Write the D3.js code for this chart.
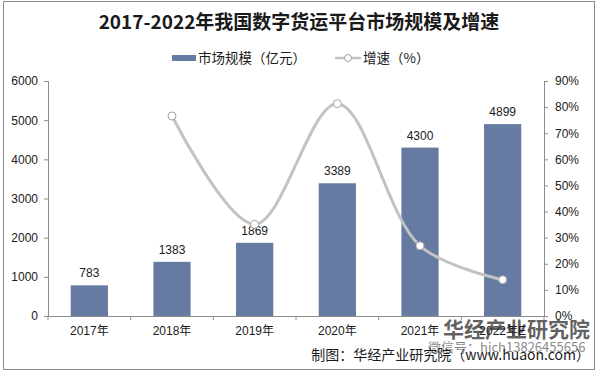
<!DOCTYPE html>
<html lang="zh">
<head>
<meta charset="UTF-8">
<title>2017-2022年我国数字货运平台市场规模及增速</title>
<style>
    body { margin: 0; background: #fff; overflow: hidden; }
    svg { display: block; }
    text { font-family: "Liberation Sans", Arial, "Noto Sans CJK SC", sans-serif; fill: #1a1a1a; }
    .cjk { font-family: "Noto Sans CJK SC", sans-serif; }
</style>
</head>
<body>
<svg id="chart" width="598" height="374"></svg>
<script src="https://cdn.jsdelivr.net/npm/d3@7"></script>
<script>
    const years = ["2017年", "2018年", "2019年", "2020年", "2021年", "2022年E"];
    const marketSize = [783, 1383, 1869, 3389, 4300, 4899];      // 亿元
    const growth = [null, 76.6, 35.1, 81.3, 26.9, 13.9];          // %
    const leftTicks = [0, 1000, 2000, 3000, 4000, 5000, 6000];
    const rightTicks = [0, 10, 20, 30, 40, 50, 60, 70, 80, 90];

    const svg = d3.select("#chart");
    const barColor = "#667ba2";
    const lineColor = "#c3c3c3";

    // outer frame
    svg.append("rect")
        .attr("x", 3.5).attr("y", 1.5)
        .attr("width", 591).attr("height", 368)
        .attr("fill", "none").attr("stroke", "#8c8c8c").attr("stroke-width", 1);

    const plotL = 48, plotR = 544, plotT = 81, plotB = 316;

    const x = d3.scaleBand().domain(years).range([plotL, plotR]).paddingInner(0.55).paddingOuter(0.275);
    const xCat = d3.scaleBand().domain(years).range([plotL, plotR]);
    const yL = d3.scaleLinear().domain([0, 6000]).range([plotB, plotT]);
    const yR = d3.scaleLinear().domain([0, 90]).range([plotB, plotT]);

    // title
    svg.append("text")
        .attr("class", "cjk")
        .attr("x", 299).attr("y", 29)
        .attr("text-anchor", "middle")
        .style("font-size", "19px").style("font-weight", "bold")
        .text("2017-2022年我国数字货运平台市场规模及增速");

    // legend
    const lg = svg.append("g");
    lg.append("rect").attr("x", 172).attr("y", 55).attr("width", 24).attr("height", 6).attr("fill", barColor);
    lg.append("text").attr("class", "cjk").attr("x", 198).attr("y", 63)
        .style("font-size", "13.5px").text("市场规模（亿元）");
    lg.append("line").attr("x1", 335).attr("x2", 361).attr("y1", 58).attr("y2", 58)
        .attr("stroke", lineColor).attr("stroke-width", 2.5);
    lg.append("circle").attr("cx", 348).attr("cy", 58).attr("r", 3.5)
        .attr("fill", "#fff").attr("stroke", "#a0a0a0");
    lg.append("text").attr("class", "cjk").attr("x", 363).attr("y", 63)
        .style("font-size", "13.5px").text("增速（%）");

    // left axis
    const axL = svg.append("g").attr("transform", `translate(${plotL},0)`)
        .call(d3.axisLeft(yL).tickValues(leftTicks).tickSize(4).tickPadding(6).tickFormat(d3.format("d")));
    // right axis
    const axR = svg.append("g").attr("transform", `translate(${plotR},0)`)
        .call(d3.axisRight(yR).tickValues(rightTicks).tickSize(4).tickPadding(7).tickFormat(d => d + "%"));
    [axL, axR].forEach(a => {
        a.selectAll("path, line").attr("stroke", "#8c8c8c");
        a.selectAll("text").style("font-size", "12px").attr("fill", "#1a1a1a")
            .style("font-family", "'Liberation Sans', Arial, sans-serif");
    });

    // bars
    svg.append("g").selectAll("rect")
        .data(marketSize)
        .join("rect")
        .attr("x", (d, i) => x(years[i]))
        .attr("y", d => yL(d))
        .attr("width", x.bandwidth())
        .attr("height", d => plotB - yL(d))
        .attr("fill", barColor);

    // bar labels
    svg.append("g").selectAll("text")
        .data(marketSize)
        .join("text")
        .attr("x", (d, i) => x(years[i]) + x.bandwidth() / 2)
        .attr("y", d => yL(d) - 8)
        .attr("text-anchor", "middle")
        .style("font-size", "12px")
        .text(d => d);

    // x axis
    const axX = svg.append("g").attr("transform", `translate(0,${plotB})`)
        .call(d3.axisBottom(xCat).tickSize(0).tickPadding(10));
    axX.select(".domain").attr("stroke", "#8c8c8c");
    axX.selectAll("text").style("font-size", "12px").attr("fill", "#1a1a1a")
        .style("font-family", "'Liberation Sans', 'Noto Sans CJK SC', sans-serif");
    axX.selectAll(".sep")
        .data(d3.range(years.length + 1))
        .join("line")
        .attr("class", "sep")
        .attr("x1", i => plotL + i * xCat.step()).attr("x2", i => plotL + i * xCat.step())
        .attr("y1", 0).attr("y2", 4)
        .attr("stroke", "#8c8c8c");

    // growth line
    const pts = growth.map((g, i) => ({ year: years[i], g })).filter(d => d.g !== null);
    const cx = d => xCat(d.year) + xCat.bandwidth() / 2;
    svg.append("path")
        .datum(pts)
        .attr("fill", "none")
        .attr("stroke", lineColor)
        .attr("stroke-width", 3)
        .attr("d", d3.line().x(cx).y(d => yR(d.g)).curve(d3.curveCatmullRom.alpha(0.5)));
    svg.append("g").selectAll("circle")
        .data(pts)
        .join("circle")
        .attr("cx", cx)
        .attr("cy", d => yR(d.g))
        .attr("r", 4)
        .attr("fill", "#fff")
        .attr("stroke", "#a3a3a3")
        .attr("stroke-width", 1);

    // watermark
    svg.append("text").attr("class", "cjk")
        .attr("x", 443).attr("y", 337)
        .style("font-size", "21px").style("font-weight", "bold")
        .attr("fill", "#8a8a8a").attr("fill-opacity", 0.7)
        .text("华经产业研究院");
    svg.append("text").attr("class", "cjk")
        .attr("x", 428).attr("y", 352)
        .style("font-size", "13px")
        .attr("fill", "#9a9a9a").attr("fill-opacity", 0.55)
        .text("微信号：hjch13826455656");

    // source
    svg.append("text").attr("class", "cjk")
        .attr("x", 590).attr("y", 360)
        .attr("text-anchor", "end")
        .style("font-size", "14px")
        .text("制图：华经产业研究院（www.huaon.com）");
</script>
</body>
</html>
